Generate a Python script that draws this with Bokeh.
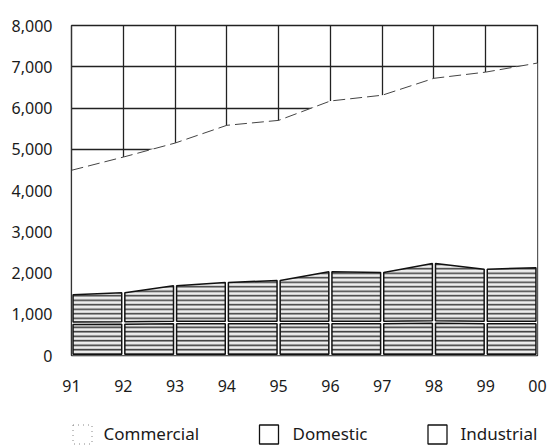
import numpy as np
from bokeh.plotting import figure
from bokeh.models import FixedTicker, NumeralTickFormatter, Range1d
from bokeh.layouts import column
from bokeh.embed import file_html
from bokeh.resources import INLINE
from bokeh.core.properties import value

# ---- data ----
years = [1991, 1992, 1993, 1994, 1995, 1996, 1997, 1998, 1999, 2000]
year_labels = ["91", "92", "93", "94", "95", "96", "97", "98", "99", "00"]
industrial = [780, 790, 800, 800, 800, 800, 800, 810, 800, 800]
domestic = [720, 760, 920, 1000, 1050, 1260, 1240, 1450, 1320, 1360]
commercial = [2990, 3260, 3430, 3780, 3850, 4110, 4270, 4460, 4750, 4930]
y_ticks = [0, 1000, 2000, 3000, 4000, 5000, 6000, 7000, 8000]
series_names = ["Commercial", "Domestic", "Industrial"]

FONT = "Noto Sans"
TXT = "#1a1a1a"
LEFT, RIGHT = 71, 11

ind_top = np.array(industrial, dtype=float)
dom_top = ind_top + np.array(domestic, dtype=float)
com_top = dom_top + np.array(commercial, dtype=float)

p = figure(width=548, height=396, x_range=Range1d(1991, 2000), y_range=Range1d(0, 8000),
           output_backend="svg", toolbar_location=None,
           min_border_left=LEFT, min_border_right=RIGHT, min_border_top=25, min_border_bottom=41)
p.background_fill_color = "white"
p.border_fill_color = "white"
p.outline_line_color = "#222222"
p.outline_line_width = 1.3

p.xgrid.ticker = FixedTicker(ticks=years)
p.ygrid.ticker = FixedTicker(ticks=y_ticks)
for g in (p.xgrid, p.ygrid):
    g.grid_line_color = "#222222"
    g.grid_line_width = 1.3

# white commercial region covering the grid
p.varea(x=years, y1=[0] * len(years), y2=com_top, fill_color="white")
p.line(years, com_top, line_color="#444444", line_width=1.0, line_dash="12 5")

# blocks per year segment for Domestic and Industrial
dx, dy = 0.03, 30

def blocks(base, top):
    xs, ys = [], []
    for i in range(len(years) - 1):
        x0, x1 = years[i] + dx, years[i + 1] - dx
        xs.append([x0, x1, x1, x0])
        ys.append([base[i] + dy, base[i + 1] + dy, top[i + 1] - dy, top[i] - dy])
    return xs, ys

zero = np.zeros(len(years))
for base, top, hc in ((zero, ind_top, "#2a2a2a"), (ind_top, dom_top, "#3a3a3a")):
    xs, ys = blocks(base, top)
    p.patches(xs, ys, fill_color="#eeeeee", hatch_pattern="horizontal_line",
              hatch_color=hc, hatch_scale=4.5, hatch_weight=1.5,
              line_color="#111111", line_width=1.5)

p.xaxis.ticker = FixedTicker(ticks=years)
p.xaxis.major_label_overrides = {y: l for y, l in zip(years, year_labels)}
p.xaxis.axis_line_color = None
p.xaxis.major_tick_line_color = None
p.xaxis.minor_tick_line_color = None
p.xaxis.major_label_standoff = 18

p.yaxis.ticker = FixedTicker(ticks=y_ticks)
p.yaxis.formatter = NumeralTickFormatter(format="0,0")
p.yaxis.axis_line_color = "#333333"
p.yaxis.axis_line_width = 1.2
p.yaxis.major_tick_line_color = None
p.yaxis.minor_tick_line_color = None
p.yaxis.major_label_standoff = 13

for ax in (p.xaxis, p.yaxis):
    ax.major_label_text_font = FONT
    ax.major_label_text_font_size = "16px"
    ax.major_label_text_color = TXT

# legend strip (frame aligned with the chart frame, data units = page pixels)
lg = figure(width=548, height=50, x_range=Range1d(LEFT, 548 - RIGHT), y_range=Range1d(0, 50),
            output_backend="svg", toolbar_location=None, min_border=0,
            min_border_left=LEFT, min_border_right=RIGHT,
            x_axis_location=None, y_axis_location=None)
lg.grid.visible = False
lg.outline_line_color = None
lg.background_fill_color = "white"
lg.border_fill_color = "white"

sw_x = [82, 268.5, 437]
tx_x = [103, 292, 460]
lg.rect(x=sw_x[:1], y=[12], width=19, height=19, fill_color="white",
        line_color="#888888", line_width=1, line_dash="1 4")
lg.rect(x=sw_x[1:], y=[12, 12], width=19, height=19, fill_color="white",
        line_color="#111111", line_width=1.3)
lg.text(x=tx_x, y=[13, 13, 13], text=series_names, text_font=value(FONT),
        text_font_size="17px", text_color=TXT, text_baseline="middle", text_align="left")

layout = column(p, lg, spacing=0)
open("out.html", "w").write(file_html(layout, INLINE))
